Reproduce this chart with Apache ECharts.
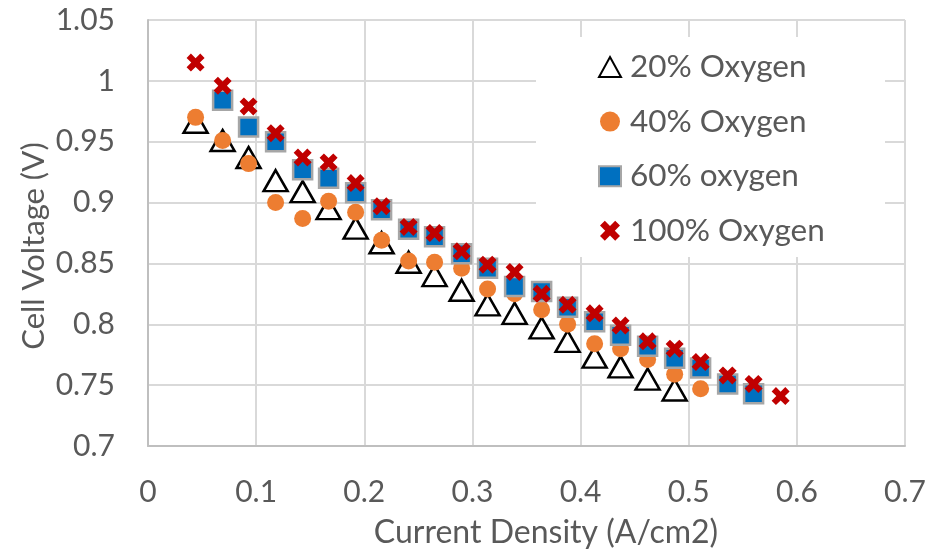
<!DOCTYPE html>
<html>
<head>
<meta charset="utf-8">
<script src="https://cdn.jsdelivr.net/npm/echarts@6/dist/echarts.min.js"></script>
<style>
  html, body { margin: 0; padding: 0; background: #fff; }
  #chart { width: 934px; height: 550px; }
</style>
</head>
<body>
<div id="chart"></div>
<script>
// Current density steps (A/cm2) shared by all runs
const currentDensity = [0.044, 0.069, 0.093, 0.118, 0.143, 0.167, 0.192, 0.216, 0.241, 0.265,
  0.290, 0.314, 0.339, 0.364, 0.388, 0.413, 0.437, 0.462, 0.487, 0.511, 0.536, 0.560, 0.585];

// Cell voltage (V) per oxygen concentration; first index into currentDensity given by *Start
const oxygen20Start = 0;
const oxygen20 = [0.966, 0.951, 0.937, 0.918, 0.909, 0.895, 0.879, 0.867, 0.851, 0.840,
  0.828, 0.816, 0.809, 0.797, 0.786, 0.773, 0.765, 0.755, 0.746];
const oxygen40Start = 0;
const oxygen40 = [0.970, 0.951, 0.932, 0.900, 0.887, 0.901, 0.892, 0.869, 0.852, 0.851,
  0.846, 0.829, 0.825, 0.812, 0.800, 0.784, 0.780, 0.771, 0.759, 0.747];
const oxygen60Start = 1;
const oxygen60 = [0.984, 0.962, 0.950, 0.927, 0.920, 0.908, 0.894, 0.878, 0.872, 0.858,
  0.846, 0.831, 0.827, 0.814, 0.802, 0.791, 0.782, 0.772, 0.764, 0.751, 0.743];
const oxygen100Start = 0;
const oxygen100 = [1.015, 0.996, 0.979, 0.957, 0.937, 0.933, 0.916, 0.897, 0.880, 0.875,
  0.860, 0.849, 0.843, 0.825, 0.816, 0.809, 0.799, 0.786, 0.780, 0.769, 0.758, 0.751, 0.741];

const seriesNames = ['20% Oxygen', '40% Oxygen', '60% oxygen', '100% Oxygen'];

// Axis tick labels
const xTicks = ['0', '0.1', '0.2', '0.3', '0.4', '0.5', '0.6', '0.7'];
const yTicks = ['0.7', '0.75', '0.8', '0.85', '0.9', '0.95', '1', '1.05'];

function pairs(values, start) {
  return values.map((v, i) => [currentDensity[start + i], v]);
}

const FONT = 'Lato, "Open Sans", sans-serif';
const TEXT = '#595959';
// bold "x" marker
const crossPath = 'path://M0,2.4 L2.4,0 L5,2.6 L7.6,0 L10,2.4 L7.4,5 L10,7.6 L7.6,10 L5,7.4 L2.4,10 L0,7.6 L2.6,5 Z';

const chart = echarts.init(document.getElementById('chart'), null, { renderer: 'canvas' });

chart.setOption({
  animation: false,
  backgroundColor: '#fff',
  textStyle: { fontFamily: FONT },
  grid: { left: 148, right: 29, top: 20, bottom: 104, containLabel: false },
  xAxis: {
    type: 'value',
    min: 0, max: 0.7, interval: 0.1,
    axisLine: { show: true, lineStyle: { color: '#bfbfbf', width: 2 } },
    axisTick: { show: false },
    axisLabel: {
      color: TEXT, fontSize: 30, fontFamily: FONT, margin: 31,
      formatter: v => xTicks[Math.round(v * 10)]
    },
    splitLine: { show: true, lineStyle: { color: '#d9d9d9', width: 2 } }
  },
  yAxis: {
    type: 'value',
    min: 0.7, max: 1.05, interval: 0.05,
    axisLine: { show: true, lineStyle: { color: '#bfbfbf', width: 2 } },
    axisTick: { show: false },
    axisLabel: {
      color: TEXT, fontSize: 30, fontFamily: FONT, margin: 33,
      formatter: v => yTicks[Math.round((v - 0.7) / 0.05)]
    },
    splitLine: { show: true, lineStyle: { color: '#d9d9d9', width: 2 } }
  },
  graphic: [
    {
      // white panel behind the legend
      type: 'rect', z: 1,
      shape: { x: 536, y: 37, width: 349, height: 220 },
      style: { fill: '#ffffff' }
    },
    {
      type: 'text', z: 5,
      x: 546, y: 533,
      style: {
        text: 'Current Density (A/cm2)',
        fill: TEXT, fontSize: 32, fontFamily: FONT,
        textAlign: 'center', textVerticalAlign: 'middle'
      }
    },
    {
      type: 'text', z: 5,
      x: 34, y: 246,
      rotation: Math.PI / 2,
      style: {
        text: 'Cell Voltage (V)',
        fill: TEXT, fontSize: 31, fontFamily: FONT,
        textAlign: 'center', textVerticalAlign: 'middle'
      }
    }
  ],
  legend: {
    orient: 'vertical',
    left: 598, top: 50,
    padding: 0,
    itemWidth: 22, itemHeight: 20,
    itemGap: 20.6,
    textStyle: { color: TEXT, fontSize: 31.5, fontFamily: FONT, lineHeight: 34, padding: [0, 0, 0, 4] },
    data: seriesNames
  },
  series: [
    {
      name: seriesNames[0], type: 'scatter',
      data: pairs(oxygen20, oxygen20Start),
      symbol: 'triangle', symbolSize: [24, 21],
      itemStyle: { color: '#ffffff', borderColor: '#000000', borderWidth: 2.5, opacity: 1 }
    },
    {
      name: seriesNames[1], type: 'scatter',
      data: pairs(oxygen40, oxygen40Start),
      symbol: 'circle', symbolSize: 17,
      itemStyle: { color: '#ED7D31', opacity: 1 }
    },
    {
      name: seriesNames[2], type: 'scatter',
      data: pairs(oxygen60, oxygen60Start),
      symbol: 'rect', symbolSize: 19,
      itemStyle: { color: '#0070C0', borderColor: '#a6a6a6', borderWidth: 2.5, opacity: 1 }
    },
    {
      name: seriesNames[3], type: 'scatter',
      data: pairs(oxygen100, oxygen100Start),
      symbol: crossPath, symbolSize: 18,
      itemStyle: { color: '#C00000', opacity: 1 }
    }
  ]
});
</script>
</body>
</html>
